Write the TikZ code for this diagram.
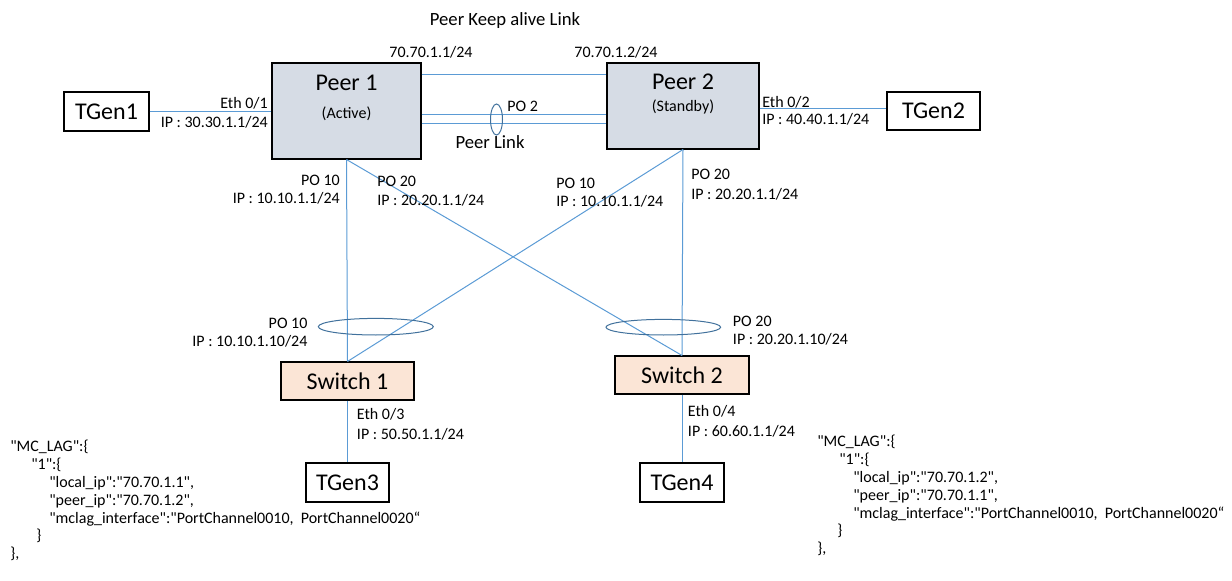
\documentclass[tikz,border=0pt]{standalone}
\usepackage{fontspec}
\setmainfont{Carlito}[Ligatures=TeXOff]
\usetikzlibrary{shapes.geometric}
\definecolor{linkblue}{HTML}{5B9BD5}
\definecolor{ellblue}{HTML}{41719C}
\definecolor{peerfill}{HTML}{D6DCE5}
\definecolor{swfill}{HTML}{FBE5D6}
\begin{document}
\begin{tikzpicture}[x=0.75pt,y=-0.75pt,
 box/.style={draw=black,line width=0.8pt,inner sep=0,font=\fontsize{18}{20}\selectfont},
 lab/.style={inner sep=0,font=\fontsize{12}{14}\selectfont,text height=8pt,text depth=0pt},
 biglab/.style={inner sep=0,font=\fontsize{14}{16}\selectfont,text height=9.3pt,text depth=0pt},
 boxtitle/.style={inner sep=0,font=\fontsize{18}{20}\selectfont},
 wire/.style={draw=linkblue,line width=0.75pt},
 ell/.style={ellipse,draw=ellblue,line width=0.75pt,inner sep=0},
 json/.style={inner sep=0,font=\fontsize{12}{14}\selectfont,anchor=base west}]
\useasboundingbox (0,0) rectangle (1232,581);

% boxes
\node[box,fill=peerfill,minimum width=111.75pt,minimum height=72pt] (p1) at (346.5,111) {};
\node[box,fill=peerfill,minimum width=114pt,minimum height=64.5pt] (p2) at (683,106) {};
\node[box,minimum width=63.75pt,minimum height=29.25pt] (t1) at (106.5,111.5) {TGen1};
\node[box,minimum width=69.75pt,minimum height=28.5pt] (t2) at (933.5,111) {TGen2};
\node[box,fill=swfill,minimum width=99.75pt,minimum height=28.5pt] (s1) at (347.5,381) {Switch 1};
\node[box,fill=swfill,minimum width=100.5pt,minimum height=28.5pt] (s2) at (682,375) {Switch 2};
\node[box,minimum width=62.25pt,minimum height=29.25pt] (t3) at (347.5,482.5) {TGen3};
\node[box,minimum width=63pt,minimum height=29.25pt] (t4) at (682,482.5) {TGen4};

\node[boxtitle] (p1t) at (346.5,83) {Peer 1};
\node[lab] (p1s) at (346.5,113) {(Active)};
\node[boxtitle] (p2t) at (683,82) {Peer 2};
\node[lab] (p2s) at (683,106) {(Standby)};

% connectors
\draw[wire] (p1.east |- 0,75) -- (p2.west |- 0,75);
\draw[wire] (p1.east |- 0,115) -- (p2.west |- 0,115);
\draw[wire] (p1.east |- 0,124) -- (p2.west |- 0,124);
\draw[wire] (t1.east |- 0,112) -- (p1.west |- 0,112);
\draw[wire] (p2.east |- 0,109) -- (t2.west |- 0,109);
\draw[wire] (p1.south) -- (s1.north);
\draw[wire] (p1.south) -- (s2.north);
\draw[wire] (p2.south) -- (s1.north);
\draw[wire] (p2.south) -- (s2.north);
\draw[wire] (s1.south) -- (t3.north);
\draw[wire] (s2.south) -- (t4.north);

% ellipses
\node[ell,minimum width=9pt,minimum height=23.25pt] (e0) at (496.5,119.5) {};
\node[ell,minimum width=86.25pt,minimum height=12.45pt] (e1) at (375.8,326.7) {};
\node[ell,minimum width=86pt,minimum height=11.7pt] (e2) at (663.3,327.2) {};

% labels
\node[biglab] (kal) at (505,19) {Peer Keep alive Link};
\node[lab] (ip71) at (431,52) {70.70.1.1/24};
\node[lab] (ip72) at (616,52) {70.70.1.2/24};
\node[lab,anchor=west] (po2) at (507,105.7) {PO 2};
\node[biglab] (pl) at (490,142) {Peer Link};
\node[lab,anchor=east] (eth1) at (268,103.3) {Eth 0/1};
\node[lab,anchor=east] (ip1) at (268,121.7) {IP : 30.30.1.1/24};
\node[lab,anchor=west] (eth2) at (762,101.7) {Eth 0/2};
\node[lab,anchor=west] (ip2) at (762,119) {IP : 40.40.1.1/24};

\node[lab,anchor=east] (po10a) at (340,180) {PO 10};
\node[lab,anchor=east] (ip10a) at (340,198.5) {IP : 10.10.1.1/24};
\node[lab,anchor=west] (po20a) at (377,181.5) {PO 20};
\node[lab,anchor=west] (ip20a) at (377,200) {IP : 20.20.1.1/24};
\node[lab,anchor=west] (po10b) at (556,183) {PO 10};
\node[lab,anchor=west] (ip10b) at (556,201.5) {IP : 10.10.1.1/24};
\node[lab,anchor=west] (po20b) at (691,174.5) {PO 20};
\node[lab,anchor=west] (ip20b) at (691,194) {IP : 20.20.1.1/24};

\node[lab,anchor=east] (po10c) at (307.7,323) {PO 10};
\node[lab,anchor=east] (ip10c) at (307.7,341.5) {IP : 10.10.1.10/24};
\node[lab,anchor=west] (po20c) at (732.7,320.7) {PO 20};
\node[lab,anchor=west] (ip20c) at (732.7,339.3) {IP : 20.20.1.10/24};

\node[lab,anchor=west] (eth3) at (356.7,414) {Eth 0/3};
\node[lab,anchor=west] (ip3) at (356.7,434) {IP : 50.50.1.1/24};
\node[lab,anchor=west] (eth4) at (687.7,410.7) {Eth 0/4};
\node[lab,anchor=west] (ip4) at (687.7,430.7) {IP : 60.60.1.1/24};

% JSON left
\node[json] (jl1) at (10,451.5) {"MC\_LAG":\{};
\node[json] (jl2) at (31,469.5) {"1":\{};
\node[json] (jl3) at (49,487.5) {"local\_ip":"70.70.1.1",};
\node[json] (jl4) at (49,505.5) {"peer\_ip":"70.70.1.2",};
\node[json] (jl5) at (49,523.5) {"mclag\_interface":"PortChannel0010,~ PortChannel0020“};
\node[json] (jl6) at (36,540.5) {\}};
\node[json] (jl7) at (10,558) {\},};

% JSON right
\node[json] (jr1) at (817,446.5) {"MC\_LAG":\{};
\node[json] (jr2) at (839,464.5) {"1":\{};
\node[json] (jr3) at (853,482.5) {"local\_ip":"70.70.1.2",};
\node[json] (jr4) at (853,500.5) {"peer\_ip":"70.70.1.1",};
\node[json] (jr5) at (853,518.5) {"mclag\_interface":"PortChannel0010,~ PortChannel0020“};
\node[json] (jr6) at (837,535.5) {\}};
\node[json] (jr7) at (817,553) {\},};
\end{tikzpicture}
\end{document}
